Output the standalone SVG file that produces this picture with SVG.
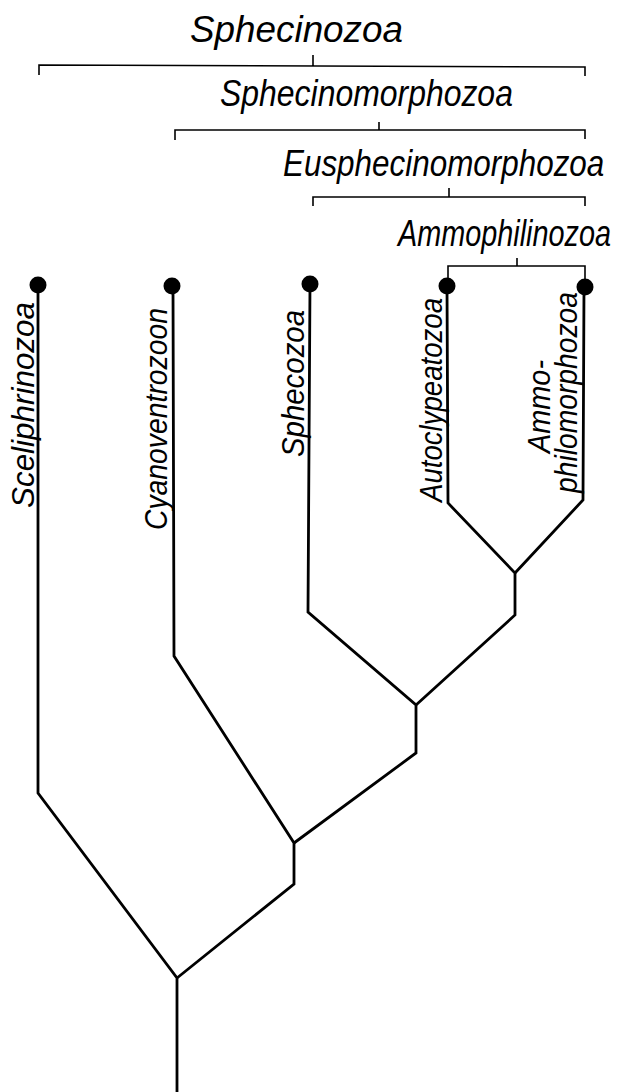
<svg xmlns="http://www.w3.org/2000/svg" width="627" height="1092" viewBox="0 0 627 1092">
<style>
.lbl{font-family:"Liberation Sans",Arial,sans-serif;font-style:italic;font-size:37px;fill:#000}
.vl{font-family:"Liberation Sans",Arial,sans-serif;font-style:italic;font-size:31px;fill:#000}
.br{fill:none;stroke:#000;stroke-width:1.6}
.tr{fill:none;stroke:#000;stroke-width:2.8;stroke-linejoin:miter}
.dot{fill:#000}
</style>
<rect width="627" height="1092" fill="#fff"/>
<g id="connectors">
<path class="tr" d="M38,285 L38,793 L177,978 L177,1092"/>
<path class="tr" d="M173,286 L174,656 L294,843 L294,884 L177,978"/>
<path class="tr" d="M310,284 L308,612 L416,705 L416,753 L294,843"/>
<path class="tr" d="M447,286 L448,503 L515,573 L515,615 L416,705"/>
<path class="tr" d="M584,287 L583,500 L515,573"/>
</g>
<g id="brackets">
<path class="br" d="M39,75 L39,65 L585,67 L585,76 M313,55 L313,66"/>
<path class="br" d="M175,140 L175,130 L585,130 L585,139 M379,122 L379,130"/>
<path class="br" d="M313,206 L313,197 L585,197 L585,206 M449,188 L449,197"/>
<path class="br" d="M448,280 L448,266 L585,266 L585,280 M517,258 L517,266"/>
</g>
<g id="group-labels">
<text class="lbl" transform="translate(190,42)" textLength="213" lengthAdjust="spacingAndGlyphs">Sphecinozoa</text>
<text class="lbl" transform="translate(220,106) scale(0.864,1)" textLength="339" lengthAdjust="spacingAndGlyphs">Sphecinomorphozoa</text>
<text class="lbl" transform="translate(283,176) scale(0.85,1)" textLength="378" lengthAdjust="spacingAndGlyphs">Eusphecinomorphozoa</text>
<text class="lbl" transform="translate(398,246) scale(0.78,1)" textLength="273" lengthAdjust="spacingAndGlyphs">Ammophilinozoa</text>
</g>
<g id="node-sceliphrinozoa">
<circle class="dot" cx="38" cy="285" r="8.5"/>
<text class="vl" transform="translate(34,508) rotate(-90)" textLength="206" lengthAdjust="spacingAndGlyphs">Sceliphrinozoa</text>
</g>
<g id="node-cyanoventrozoon">
<circle class="dot" cx="172" cy="286" r="8.5"/>
<text class="vl" transform="translate(167,530) rotate(-90)" textLength="222" lengthAdjust="spacingAndGlyphs">Cyanoventrozoon</text>
</g>
<g id="node-sphecozoa">
<circle class="dot" cx="310" cy="284" r="8.5"/>
<text class="vl" transform="translate(304,457) rotate(-90)" textLength="147" lengthAdjust="spacingAndGlyphs">Sphecozoa</text>
</g>
<g id="node-autoclypeatozoa">
<circle class="dot" cx="447" cy="286" r="8.5"/>
<text class="vl" transform="translate(442,502) rotate(-90)" textLength="204" lengthAdjust="spacingAndGlyphs">Autoclypeatozoa</text>
</g>
<g id="node-ammophilomorphozoa">
<circle class="dot" cx="585" cy="287" r="8.5"/>
<text class="vl" transform="translate(550,453) rotate(-90)" textLength="93" lengthAdjust="spacingAndGlyphs">Ammo-</text>
<text class="vl" transform="translate(577,493) rotate(-90)" textLength="201" lengthAdjust="spacingAndGlyphs">philomorphozoa</text>
</g>
</svg>
